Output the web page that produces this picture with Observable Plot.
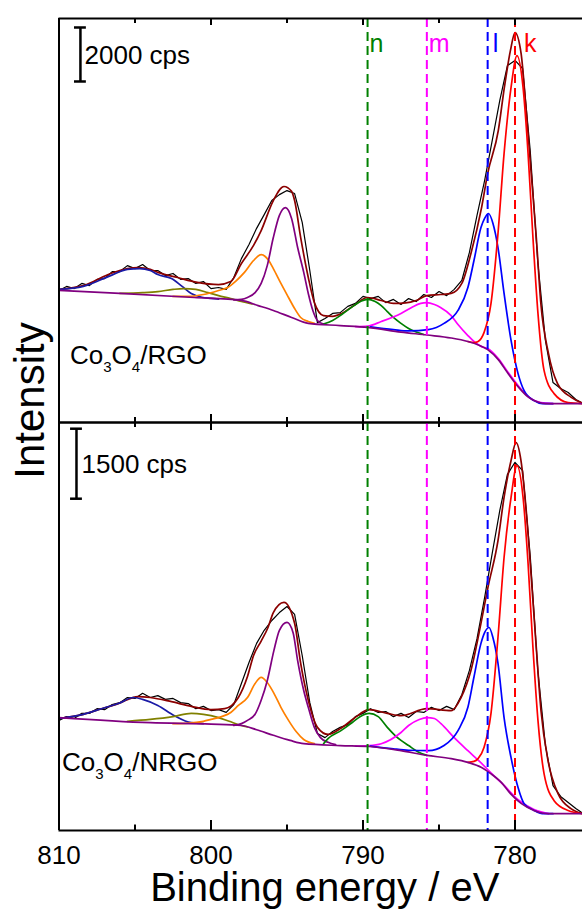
<!DOCTYPE html>
<html>
<head>
<meta charset="utf-8">
<script src="https://cdn.jsdelivr.net/npm/d3@7"></script>
<script src="https://cdn.jsdelivr.net/npm/@observablehq/plot@0.6"></script>
<style>
html,body{margin:0;padding:0;background:#fff;}
#chart{position:relative;width:582px;height:909px;overflow:hidden;background:#fff;}
#chart > div{position:absolute;left:0;}
#top{top:0;}
#bottom{top:422px;}
</style>
</head>
<body>
<div id="chart"><div id="top"></div><div id="bottom"></div></div>
<script>
// ---------------- DATA (binding energy in eV, intensity in cps) ----------------
const rawEnergy = d3.range(810, 775.4, -0.5); // sampling energies of the measured spectra

// Co3O4/RGO (top panel) measured spectrum
const topRaw = [4890, 5040, 4960, 5150, 5070, 5300, 5330, 5590, 5590, 5810,
  5700, 5850, 5630, 5630, 5440, 5520, 5300, 5330, 5150, 5220,
  4960, 5000, 4930, 5370, 6070, 6590, 7190, 7700, 8220, 8440,
  8590, 8480, 7410, 5630, 3700, 3850, 4040, 4070, 4300, 4410,
  4670, 4590, 4670, 4440, 4560, 4370, 4590, 4480, 4740, 4630,
  4850, 4700, 4930, 5260, 6300, 7670, 8960, 10440, 11930, 13220,
  13410, 13110, 10070, 5930, 3040, 1480, 1260, 1110, 850, 700];

const topEnvelope = [[810, 4930], [808.4, 5070], [806.6, 5520], [805.5, 5700], [804.8, 5740], [804, 5670], [803.5, 5560], [802.2, 5370], [800.9, 5190], [799.5, 5110], [798.7, 5220], [798, 5890], [797.2, 6560], [796.7, 7110], [795.9, 8220], [795.2, 8740], [794.7, 8560], [794.5, 8220], [794.1, 6850], [793.6, 5370], [793.2, 4440], [792.6, 3960], [792, 3930], [791.4, 4040], [790.6, 4330], [789.7, 4630], [788.8, 4520], [788, 4410], [787.2, 4430], [786.5, 4520], [785.8, 4700], [784.9, 4740], [784.2, 4780], [783.5, 5150], [782.9, 6260], [782.2, 7960], [781.8, 9220], [781.1, 10810], [780.7, 12410], [780.3, 13780], [780, 14440], [779.6, 13670], [779.3, 11810], [778.95, 9330], [778.6, 6850], [778.3, 4410], [777.8, 2560], [777.2, 1440], [776.3, 930], [775.5, 700]];

const topBackground = [[810, 4890], [806, 4780], [801.1, 4630], [798, 4520], [796.9, 4330], [795.9, 4150], [794.7, 3890], [793.6, 3670], [791.5, 3590], [789.7, 3520], [787.5, 3350], [785.8, 3240], [784.2, 3130], [783.1, 3000], [782.4, 2870], [781.8, 2700], [781.1, 2330], [780.5, 1850], [779.8, 1330], [779.1, 930], [778.5, 760], [778, 700], [775.5, 700]];

const topSat805 = [[810, 4930], [808.4, 5040], [806.6, 5440], [805.5, 5670], [804.7, 5700], [804, 5630], [803.5, 5480], [802.6, 5330], [801.9, 5040], [801.3, 4780], [800.6, 4640], [800, 4600], [799.5, 4570]];
const topSat802 = [[806, 4780], [804.5, 4810], [803.5, 4850], [802.5, 4930], [801.8, 4960], [801, 4930], [800.2, 4810], [799.5, 4700], [798.7, 4590], [798, 4480], [797.3, 4390]];
const topPeak797 = [[802.5, 4670], [801.5, 4670], [800.5, 4740], [799.5, 4890], [798.9, 5000], [798.4, 5220], [797.8, 5560], [797.2, 6000], [796.7, 6220], [796.2, 6000], [795.9, 5700], [795.4, 5150], [794.9, 4630], [794.5, 4220], [794.1, 3890], [793.6, 3740], [793.2, 3670]];
const topPeak795 = [[798.5, 4540], [798, 4560], [797.6, 4630], [797.1, 4810], [796.7, 5150], [796.3, 5810], [795.9, 6850], [795.5, 7670], [795.1, 7960], [794.7, 7560], [794.3, 6480], [793.9, 5560], [793.6, 4780], [793.3, 4150], [793, 3780], [792.6, 3650]];
const topN = [[792.6, 3650], [792, 3780], [791.4, 4000], [790.6, 4330], [790.1, 4500], [789.7, 4560], [789.2, 4480], [788.8, 4330], [788.4, 4110], [788, 3890], [787.5, 3670], [787, 3480], [786.5, 3350], [786, 3260]];
const topM = [[790.5, 3550], [789.7, 3570], [788.8, 3740], [787.5, 4040], [786.8, 4260], [786.2, 4410], [785.8, 4440], [785.3, 4370], [784.9, 4260], [784.2, 3960], [783.75, 3630], [783.1, 3220], [782.7, 3000], [782.2, 2810], [781.8, 2740], [781.1, 2370], [780.5, 1890], [779.8, 1370], [779.1, 940], [778.3, 740], [777.5, 700]];
const topL = [[789.5, 3540], [788, 3440], [787, 3390], [785.7, 3440], [784.67, 3670], [783.75, 4150], [783.1, 5000], [782.7, 6000], [782.24, 7220], [782, 7560], [781.74, 7740], [781.45, 7370], [781.12, 6480], [780.72, 4780], [780.26, 3040], [779.8, 1810], [779.41, 1190], [778.75, 810], [778.2, 700], [777.5, 700]];
const topK = [[783.1, 3000], [782.7, 2960], [782.43, 3000], [782.04, 3330], [781.58, 4410], [781.12, 7000], [780.72, 9960], [780.26, 12410], [779.87, 13590], [779.47, 12410], [779.14, 9960], [778.82, 6850], [778.49, 4040], [778.09, 1930], [777.43, 1070], [776.51, 740], [775.5, 700]];

// Co3O4/NRGO (bottom panel) measured spectrum
const bottomRaw = [2360, 2440, 2400, 2510, 2510, 2610, 2590, 2700, 2740, 2850,
  2830, 2940, 2850, 2890, 2810, 2830, 2740, 2720, 2610, 2660,
  2570, 2590, 2530, 2700, 3150, 3600, 4010, 4290, 4500, 4670,
  4800, 4630, 3750, 2740, 2080, 1990, 2120, 2210, 2270, 2440,
  2510, 2610, 2530, 2550, 2440, 2510, 2420, 2550, 2530, 2640,
  2570, 2660, 2590, 2910, 3430, 4110, 4990, 5940, 6860, 7630,
  7890, 7710, 5890, 3430, 1820, 960, 730, 600, 470, 360];

const bottomEnvelope = [[810, 2400], [808.4, 2490], [807.2, 2610], [806.1, 2720], [804.8, 2870], [804, 2850], [802.6, 2760], [801.3, 2660], [800, 2590], [799.1, 2610], [798.2, 2850], [797.6, 3300], [797.2, 3750], [796.7, 4060], [796.25, 4350], [795.9, 4670], [795.2, 4890], [794.5, 4440], [794.1, 3580], [793.6, 2790], [793, 2210], [792.3, 2060], [791.45, 2190], [790.6, 2400], [789.6, 2590], [788.4, 2510], [787.5, 2460], [785.8, 2610], [784.2, 2570], [783.55, 2850], [782.9, 3430], [782.24, 4440], [781.78, 5210], [781.12, 6210], [780.72, 7140], [780.26, 7930], [779.93, 8310], [779.61, 7930], [779.28, 6920], [778.95, 5510], [778.62, 4010], [778.29, 2570], [777.83, 1500], [777.17, 790], [776.32, 470], [775.5, 360]];

const bottomBackground = [[810, 2420], [804, 2310], [800, 2280], [798, 2250], [797, 2160], [795.9, 2040], [794.8, 1930], [793.9, 1860], [791.5, 1820], [789.6, 1800], [787.5, 1710], [785.8, 1610], [784.2, 1540], [783.1, 1460], [782.2, 1350], [781.6, 1220], [780.9, 1030], [780.3, 790], [779.6, 580], [778.75, 430], [777.8, 360], [775.5, 360]];

const bottomSat805 = [[810, 2400], [808.4, 2490], [807.2, 2610], [806.1, 2720], [805.1, 2850], [804.5, 2810], [803.5, 2680], [802.4, 2460], [801.3, 2310], [800.5, 2290]];
const bottomSat802 = [[805.5, 2340], [804, 2380], [802.5, 2440], [801.3, 2510], [800.5, 2490], [799.5, 2420], [798.8, 2340], [798, 2250], [797.6, 2220]];
const bottomPeak797 = [[802.5, 2290], [801.5, 2300], [800.5, 2340], [800, 2380], [799.3, 2440], [798.7, 2530], [798.2, 2680], [797.6, 2850], [797.1, 3150], [796.7, 3280], [796.3, 3170], [795.86, 2940], [795.4, 2640], [794.9, 2360], [794.4, 2120], [793.9, 1950], [793.2, 1860]];
const bottomPeak795 = [[798.5, 2250], [798, 2290], [797.6, 2360], [797.1, 2490], [796.7, 2790], [796.3, 3210], [795.86, 3860], [795.5, 4290], [795, 4460], [794.6, 4240], [794.3, 3640], [793.9, 3000], [793.6, 2640], [793.2, 2210], [792.8, 1990], [792.3, 1890], [791.8, 1840]];
const bottomN = [[792.6, 1860], [792.3, 1970], [791.45, 2140], [790.8, 2290], [790.2, 2440], [789.6, 2510], [789, 2440], [788.4, 2210], [787.9, 2040], [787.5, 1930], [787, 1820], [786.4, 1690], [785.8, 1610]];
const bottomM = [[790.5, 1810], [789.6, 1820], [788.8, 1860], [787.5, 2100], [787, 2250], [786.3, 2380], [785.79, 2420], [785.3, 2400], [784.87, 2290], [784, 1990], [783.1, 1710], [782.2, 1440], [781.6, 1240], [780.7, 960], [779.8, 660], [778.75, 450], [777.8, 360]];
const bottomL = [[789.5, 1810], [788, 1750], [787, 1720], [785.7, 1710], [784.67, 1820], [783.75, 2140], [783.1, 2640], [782.7, 3290], [782.24, 4010], [782, 4240], [781.71, 4350], [781.45, 4130], [781.12, 3580], [780.72, 2420], [780.26, 1560], [779.8, 920], [779.41, 580], [778.75, 430], [778.2, 360], [777.5, 360]];
const bottomK = [[783.1, 1460], [782.7, 1480], [782.43, 1540], [782.04, 1780], [781.58, 2510], [781.12, 4140], [780.72, 5850], [780.26, 7140], [779.87, 7820], [779.47, 7140], [779.14, 5720], [778.82, 3920], [778.49, 2360], [778.09, 1220], [777.43, 640], [776.51, 430], [775.5, 360]];

// Peak position markers
const peakEnergies = [789.7, 785.8, 781.8, 780.0];
const peakLabels = ["n", "m", "l", "k"];

// Axis ticks
const tickLabels = [810, 800, 790, 780];
const majorTicks = [800, 790, 780];
const minorTicks = [805, 795, 785];

// Scale bars (cps)
const scaleBarCps = [2000, 1500];
const sampleNames = ["Co3O4/RGO", "Co3O4/NRGO"];

// ---------------- STYLE ----------------
const FONT = "'Liberation Sans', Arial, Helvetica, sans-serif";
const X_DOMAIN = [810, 775.56];
const peakColors = ["#008000", "#ff00ff", "#0000ff", "#ff0000"];
const labelDx = [2, 2, 5, 9];
const C = {
  raw: "#000000", env: "#8b0000", bg: "#800080", sat805: "#1a1aa6", sat802: "#808000",
  p797: "#ff8000", p795: "#800080", n: "#008000", m: "#ff00ff", l: "#0000ff", k: "#ff0000"
};
const baseStyle = {background: "transparent", overflow: "visible", fontFamily: FONT, color: "black"};

function lineMark(data, color) {
  return Plot.line(data, {x: d => d[0], y: d => d[1], stroke: color, strokeWidth: 1.7, curve: "monotone-x"});
}
function rawMark(values) {
  return Plot.line(values, {x: (d, i) => rawEnergy[i], y: d => d, stroke: C.raw, strokeWidth: 1.2});
}
function spectrumMarks(s) {
  return [
    rawMark(s.raw),
    lineMark(s.env, C.env),
    lineMark(s.sat805, C.sat805),
    lineMark(s.sat802, C.sat802),
    lineMark(s.p797, C.p797),
    lineMark(s.p795, C.p795),
    lineMark(s.n, C.n),
    lineMark(s.m, C.m),
    lineMark(s.l, C.l),
    lineMark(s.k, C.k),
    lineMark(s.bg, C.bg)
  ];
}
function dashedMarks() {
  return peakEnergies.map((e, i) => Plot.ruleX([e], {stroke: peakColors[i], strokeWidth: 2, strokeDasharray: "9,5"}));
}
function scaleBar(xE, base, cps) {
  const hw = 0.39;
  return [
    Plot.ruleX([xE], {y1: base, y2: base + cps, stroke: "black", strokeWidth: 2.5}),
    Plot.ruleY([base, base + cps], {x1: xE - hw, x2: xE + hw, stroke: "black", strokeWidth: 2.5})
  ];
}

// ---------------- TOP PANEL ----------------
const topH = 404;
const topPlot = Plot.plot({
  width: 582, height: 422,
  marginLeft: 58.5, marginRight: 0, marginTop: 18, marginBottom: 0,
  x: {domain: X_DOMAIN, axis: null},
  y: {domain: [0, 14963], axis: null},
  color: {type: "identity"},
  style: baseStyle,
  marks: [
    ...spectrumMarks({raw: topRaw, env: topEnvelope, bg: topBackground, sat805: topSat805, sat802: topSat802,
      p797: topPeak797, p795: topPeak795, n: topN, m: topM, l: topL, k: topK}),
    ...dashedMarks(),
    ...peakLabels.map((t, i) => Plot.text([t], {x: peakEnergies[i], text: d => d, fill: peakColors[i], frameAnchor: "top",
      dx: labelDx[i], dy: 33, textAnchor: "start", lineAnchor: "bottom", fontSize: 25, fontFamily: FONT})),
    ...scaleBar(808.59, 12630, scaleBarCps[0]),
    Plot.text([scaleBarCps[0] + " cps"], {frameAnchor: "top-left", dx: 25.5, dy: 45, textAnchor: "start", lineAnchor: "bottom", fontSize: 26, fontFamily: FONT}),
    Plot.text([sampleNames[0]], {frameAnchor: "top-left", dx: 11, dy: 345, textAnchor: "start", lineAnchor: "bottom", fontSize: 26, fontFamily: FONT}),
    Plot.text(["Intensity"], {frameAnchor: "top-left", dx: -15.5, dy: 382, rotate: -90, textAnchor: "middle", lineAnchor: "bottom", fontSize: 42, fontFamily: FONT}),
    // frame and ticks
    Plot.ruleX(majorTicks, {stroke: "black", strokeWidth: 2, insetBottom: topH - 7}),
    Plot.ruleX(minorTicks, {stroke: "black", strokeWidth: 2, insetBottom: topH - 5}),
    Plot.ruleX(majorTicks, {stroke: "black", strokeWidth: 2, insetTop: topH - 8}),
    Plot.ruleX(minorTicks, {stroke: "black", strokeWidth: 2, insetTop: topH - 5}),
    Plot.ruleY([14963], {stroke: "black", strokeWidth: 2}),
    Plot.ruleY([0], {stroke: "black", strokeWidth: 2}),
    Plot.ruleX([810], {stroke: "black", strokeWidth: 2})
  ]
});

// ---------------- BOTTOM PANEL ----------------
const botH = 408;
const bottomPlot = Plot.plot({
  width: 582, height: 487,
  marginLeft: 58.5, marginRight: 0, marginTop: 0, marginBottom: 79,
  x: {domain: X_DOMAIN},
  y: {domain: [0, 8743], axis: null},
  color: {type: "identity"},
  style: baseStyle,
  marks: [
    ...spectrumMarks({raw: bottomRaw, env: bottomEnvelope, bg: bottomBackground, sat805: bottomSat805, sat802: bottomSat802,
      p797: bottomPeak797, p795: bottomPeak795, n: bottomN, m: bottomM, l: bottomL, k: bottomK}),
    ...dashedMarks(),
    ...scaleBar(808.85, 7110, scaleBarCps[1]),
    Plot.text([scaleBarCps[1] + " cps"], {frameAnchor: "top-left", dx: 22.5, dy: 50, textAnchor: "start", lineAnchor: "bottom", fontSize: 26, fontFamily: FONT}),
    Plot.text([sampleNames[1]], {frameAnchor: "top-left", dx: 3, dy: 348, textAnchor: "start", lineAnchor: "bottom", fontSize: 26, fontFamily: FONT}),
    Plot.axisX({ticks: tickLabels, tickSize: 0, tickPadding: 15, fontSize: 26, label: null, fontFamily: FONT}),
    Plot.text(["Binding energy / eV"], {frameAnchor: "bottom", dx: 4, dy: 70, textAnchor: "middle", lineAnchor: "bottom", fontSize: 40, fontFamily: FONT}),
    // frame and ticks
    Plot.ruleX(majorTicks, {stroke: "black", strokeWidth: 2, insetBottom: botH - 8}),
    Plot.ruleX(minorTicks, {stroke: "black", strokeWidth: 2, insetBottom: botH - 5}),
    Plot.ruleX(majorTicks, {stroke: "black", strokeWidth: 2, insetTop: botH - 10}),
    Plot.ruleX(minorTicks, {stroke: "black", strokeWidth: 2, insetTop: botH - 5.5}),
    Plot.ruleY([8743], {stroke: "black", strokeWidth: 2}),
    Plot.ruleY([0], {stroke: "black", strokeWidth: 2}),
    Plot.ruleX([810], {stroke: "black", strokeWidth: 2})
  ]
});

// Subscripts in the sample names (Co3O4)
function subscriptify(svg) {
  d3.select(svg).selectAll("text").each(function() {
    const m = /^Co3O4\/(\S+)$/.exec(this.textContent);
    if (!m) return;
    const t = d3.select(this).text(null);
    t.append("tspan").text("Co");
    t.append("tspan").attr("dy", 8).attr("font-size", 15).text("3");
    t.append("tspan").attr("dy", -8).text("O");
    t.append("tspan").attr("dy", 8).attr("font-size", 15).text("4");
    t.append("tspan").attr("dy", -8).text("/" + m[1]);
  });
}
subscriptify(topPlot);
subscriptify(bottomPlot);

document.getElementById("top").appendChild(topPlot);
document.getElementById("bottom").appendChild(bottomPlot);
</script>
</body>
</html>
